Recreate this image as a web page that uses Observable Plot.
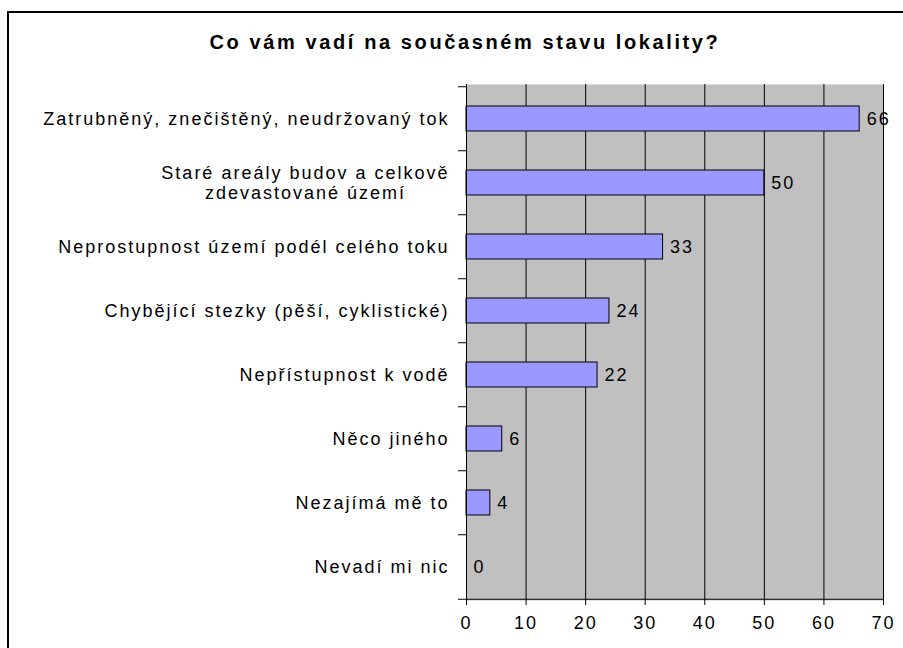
<!DOCTYPE html>
<html>
<head>
<meta charset="utf-8">
<script src="https://cdn.jsdelivr.net/npm/d3@7"></script>
<script src="https://cdn.jsdelivr.net/npm/@observablehq/plot@0.6"></script>
<style>
  html, body { margin: 0; padding: 0; background: #fff; }
  body { width: 903px; height: 648px; overflow: hidden; position: relative; font-family: "Liberation Sans", Arial, sans-serif; }
  #frame { position: absolute; left: 7px; top: 11px; width: 940px; height: 700px; border: 2px solid #000; box-sizing: border-box; }
  #title { position: absolute; left: 0; top: 32px; width: 930px; text-align: center; font-size: 20px; line-height: 20px; font-weight: bold; letter-spacing: 2.6px; color: #000; }
  #chart { position: absolute; left: 0; top: 0; }
</style>
</head>
<body>
<div id="frame"></div>
<div id="title">Co vám vadí na současném stavu lokality?</div>
<div id="chart"></div>
<script>
const categories = [
  "Zatrubněný, znečištěný, neudržovaný tok",
  "Staré areály budov a celkově\nzdevastované území",
  "Neprostupnost území podél celého toku",
  "Chybějící stezky (pěší, cyklistické)",
  "Nepřístupnost k vodě",
  "Něco jiného",
  "Nezajímá mě to",
  "Nevadí mi nic"
];
const values = [66, 50, 33, 24, 22, 6, 4, 0];
const xTicks = [0, 10, 20, 30, 40, 50, 60, 70];

const data = categories.map((c, i) => ({category: c, value: values[i]}));

const W = 903, H = 648, mL = 466, mR = 20, mT = 84, mB = 48;
const step = (H - mT - mB) / categories.length;
const last = categories[categories.length - 1];

const chart = Plot.plot({
  width: W,
  height: H,
  marginLeft: mL,
  marginRight: mR,
  marginTop: mT,
  marginBottom: mB,
  style: {
    fontFamily: "'Liberation Sans', Arial, sans-serif",
    fontSize: "18px",
    letterSpacing: "2px",
    background: "transparent",
    color: "#000",
    overflow: "visible"
  },
  x: {domain: [0, 70], label: null},
  y: {domain: categories, paddingInner: 0.61, paddingOuter: 0.305, label: null},
  marks: [
    Plot.frame({fill: "#c0c0c0", stroke: null}),
    Plot.ruleX(xTicks.slice(1), {stroke: "#000", strokeWidth: 1}),
    Plot.barX(data, {x: "value", y: "category", fill: "#9999ff", stroke: "#000", strokeWidth: 1}),
    Plot.text(data, {x: "value", y: "category", text: d => String(d.value), textAnchor: "start", dx: 7, fill: "#000", fontSize: 18}),
    Plot.ruleX([0], {stroke: "#000", strokeWidth: 1}),
    Plot.ruleY(categories, {y: d => d, x1: 0, x2: 0, insetLeft: -8, dy: -step / 2, stroke: "#000"}),
    Plot.ruleY([last], {y: d => d, x1: 0, x2: 70, insetLeft: -8, dy: step / 2, stroke: "#000"}),
    Plot.axisX({ticks: xTicks, tickSize: 5, tickPadding: 11, fontSize: 18, stroke: "#000", fill: "#000", label: null}),
    Plot.axisY({tickSize: 0, tickPadding: 17, fontSize: 18, lineHeight: 1.1, fill: "#000", label: null})
  ]
});

document.getElementById("chart").appendChild(chart);

// center-align the lines of the two-line category label (as in the original chart)
chart.querySelectorAll("text").forEach(t => {
  const spans = t.querySelectorAll("tspan");
  if (spans.length > 1) {
    const w = spans[0].getComputedTextLength();
    t.setAttribute("text-anchor", "middle");
    spans.forEach(s => s.setAttribute("x", String(-w / 2)));
  }
});
</script>
</body>
</html>
